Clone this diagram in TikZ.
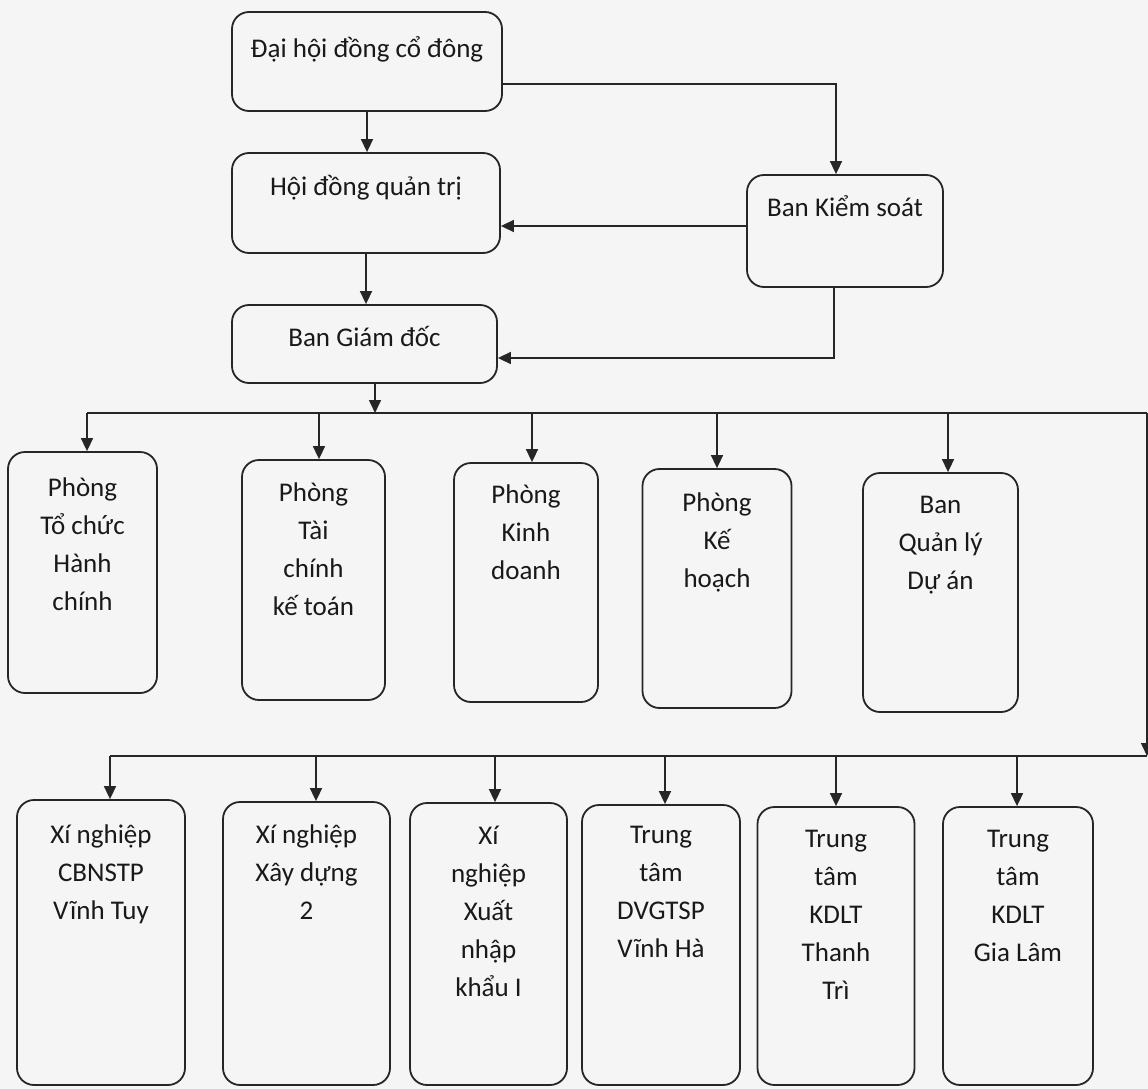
\documentclass[tikz,border=0pt]{standalone}
\usepackage{fontspec}
\setmainfont{Carlito}
\usetikzlibrary{arrows.meta}
\begin{document}
\begin{tikzpicture}[x=1pt,y=-1pt,
  boxst/.style={draw=black!85, line width=1.8pt, rounded corners=17pt, inner sep=0pt},
  lbl/.style={font=\fontsize{27}{38}\selectfont, align=center, inner sep=0pt, text=black!90},
  conn/.style={draw=black!85, line width=1.6pt},
  arr/.style={conn, -{Triangle[length=13pt,width=12pt]}}]
\fill[black!4] (0,0) rectangle (1148,1089);
\useasboundingbox (0,0) rectangle (1148,1089);

% top hierarchy
\node[boxst, minimum width=270pt, minimum height=99pt] (dh) at (367,61.5) {};
\node[lbl, anchor=north] (dht) at (367,36) {Đại hội đồng cổ đông};
\node[boxst, minimum width=268pt, minimum height=100pt] (hd) at (366,203) {};
\node[lbl, anchor=north] (hdt) at (366,175) {Hội đồng quản trị};
\node[boxst, minimum width=196pt, minimum height=112pt] (bks) at (845,231) {};
\node[lbl, anchor=north] (bkst) at (845,195) {Ban Kiểm soát};
\node[boxst, minimum width=265pt, minimum height=78pt] (bgd) at (364.5,344) {};
\node[lbl, anchor=north] (bgdt) at (364.5,326) {Ban Giám đốc};

% top row
\node[boxst, minimum width=149pt, minimum height=241pt] (p1) at (82.5,572.5) {};
\node[lbl, anchor=north] (p1t) at (82.5,478) {Phòng\\Tổ chức\\Hành\\chính};
\node[boxst, minimum width=143pt, minimum height=240pt] (p2) at (313.5,580) {};
\node[lbl, anchor=north] (p2t) at (313.5,483) {Phòng\\Tài\\chính\\kế toán};
\node[boxst, minimum width=144pt, minimum height=239pt] (p3) at (526,582.5) {};
\node[lbl, anchor=north] (p3t) at (526,485) {Phòng\\Kinh\\doanh};
\node[boxst, minimum width=149pt, minimum height=239pt] (p4) at (717,588.5) {};
\node[lbl, anchor=north] (p4t) at (717,493) {Phòng\\Kế\\hoạch};
\node[boxst, minimum width=155pt, minimum height=239pt] (p5) at (940.5,592.5) {};
\node[lbl, anchor=north] (p5t) at (940.5,496) {Ban\\Quản lý\\Dự án};

% bottom row
\node[boxst, minimum width=168pt, minimum height=285pt] (q1) at (101,942.5) {};
\node[lbl, anchor=north] (q1t) at (101,825) {Xí nghiệp\\CBNSTP\\Vĩnh Tuy};
\node[boxst, minimum width=167pt, minimum height=283pt] (q2) at (306.5,943.5) {};
\node[lbl, anchor=north] (q2t) at (306.5,825) {Xí nghiệp\\Xây dựng\\2};
\node[boxst, minimum width=157pt, minimum height=282pt] (q3) at (488.5,944) {};
\node[lbl, anchor=north] (q3t) at (488.5,826) {Xí\\nghiệp\\Xuất\\nhập\\khẩu I};
\node[boxst, minimum width=158pt, minimum height=280pt] (q4) at (661,945) {};
\node[lbl, anchor=north] (q4t) at (661,826) {Trung\\tâm\\DVGTSP\\Vĩnh Hà};
\node[boxst, minimum width=157pt, minimum height=278pt] (q5) at (836,946) {};
\node[lbl, anchor=north] (q5t) at (836,830) {Trung\\tâm\\KDLT\\Thanh\\Trì};
\node[boxst, minimum width=150pt, minimum height=278pt] (q6) at (1018,946) {};
\node[lbl, anchor=north] (q6t) at (1018,830) {Trung\\tâm\\KDLT\\Gia Lâm};

% bus coordinates
\coordinate (b1L) at (87,413);
\coordinate (b1R) at (1147,413);
\coordinate (b2R) at (1147,756);
\coordinate (b2L) at (110,756);

% top connectors
\draw[arr] (dh.south) -- (dh.south |- hd.north);
\draw[arr] ([yshift=-22.5pt]dh.east) -| ([xshift=-9pt]bks.north);
\draw[arr] ([yshift=5pt]bks.west) -- ([yshift=5pt]bks.west -| hd.east);
\draw[arr] (hd.south) -- (hd.south |- bgd.north);
\draw[arr] ([xshift=-11pt]bks.south) |- ([yshift=-14pt]bgd.east);
\draw[arr] ([xshift=10.5pt]bgd.south) -- ([xshift=10.5pt]bgd.south |- b1L);

% first bus
\draw[conn] (b1L) -- (b1R);
\draw[arr] (b1L) -- ([xshift=4.5pt]p1.north);
\draw[arr] ([xshift=5.5pt]p2.north |- b1L) -- ([xshift=5.5pt]p2.north);
\draw[arr] ([xshift=6pt]p3.north |- b1L) -- ([xshift=6pt]p3.north);
\draw[arr] (p4.north |- b1L) -- (p4.north);
\draw[arr] ([xshift=7.5pt]p5.north |- b1L) -- ([xshift=7.5pt]p5.north);
\draw[arr] (b1R) -- (b2R);

% second bus
\draw[conn] (b2R) -- (b2L);
\draw[arr] (b2L) -- ([xshift=9pt]q1.north);
\draw[arr] ([xshift=9.5pt]q2.north |- b2L) -- ([xshift=9.5pt]q2.north);
\draw[arr] ([xshift=6.5pt]q3.north |- b2L) -- ([xshift=6.5pt]q3.north);
\draw[arr] ([xshift=4pt]q4.north |- b2L) -- ([xshift=4pt]q4.north);
\draw[arr] (q5.north |- b2L) -- (q5.north);
\draw[arr] ([xshift=-1pt]q6.north |- b2L) -- ([xshift=-1pt]q6.north);
\end{tikzpicture}
\end{document}
